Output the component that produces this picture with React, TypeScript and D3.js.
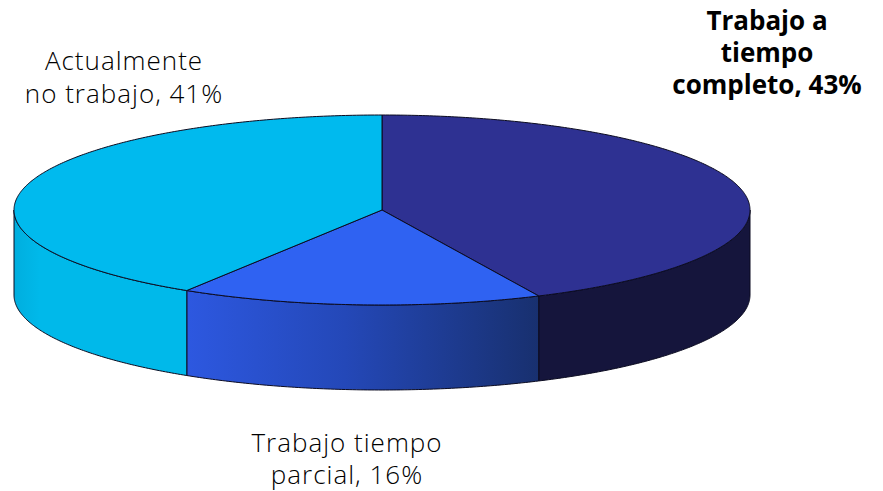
import React from "react";
import * as d3 from "d3";

const categories = ["Trabajo a tiempo completo", "Trabajo tiempo parcial", "Actualmente no trabajo"];
const shares = [43, 15.9, 41.1];
const topColors = ["#2e3192", "#2f62f2", "#00baee"];
const labelLines = [
  ["Trabajo a", "tiempo", "completo, 43%"],
  ["Trabajo tiempo", "parcial, 16%"],
  ["Actualmente", "no trabajo, 41%"],
];
const sideStops = [
  [["0%", "#15153c"], ["100%", "#15153c"]],
  [["0%", "#2d58e0"], ["45%", "#2448b8"], ["100%", "#18306f"]],
  [["0%", "#00aede"], ["15%", "#00b9ea"], ["100%", "#00b9ea"]],
];

const W = 883, H = 491;
const x = d3.scaleLinear().domain([-1, 1]).range([14, 750]);
const y = d3.scaleLinear().domain([-1, 1]).range([115, 305]);
const depth = 85;
const pie = d3.pie<number>().sort(null).startAngle(0).endAngle(2 * Math.PI);
const arcs = pie(shares);
const samples = (a: number, b: number) => {
  const n = Math.max(2, Math.ceil((b - a) / 0.01));
  return d3.range(n + 1).map((i) => a + ((b - a) * i) / n);
};
const px = (a: number) => x(Math.sin(a));
const py = (a: number) => y(-Math.cos(a));
const line = d3.line<[number, number]>();
const topPath = (a: number, b: number) =>
  line([[x(0), y(0)], ...samples(a, b).map((t) => [px(t), py(t)] as [number, number])]) + "Z";
const sidePath = (a0: number, b0: number) => {
  const a = Math.max(a0, Math.PI / 2), b = Math.min(b0, (3 * Math.PI) / 2);
  if (b <= a) return null;
  const ts = samples(a, b);
  const upper = ts.map((t) => [px(t), py(t)] as [number, number]);
  const lower = ts.slice().reverse().map((t) => [px(t), py(t) + depth] as [number, number]);
  return line([...upper, ...lower]) + "Z";
};
const labelPos = [
  { cx: 767, y: 30, lh: 32, weight: 700, spacing: 0 },
  { cx: 347, y: 452, lh: 32, weight: 300, spacing: 1 },
  { cx: 124, y: 70, lh: 33, weight: 300, spacing: 1 },
];

export default function App() {
  return (
    <svg width={W} height={H} style={{ position: "absolute", left: 0, top: 0, background: "#fff" }}>
      <defs>
        {sideStops.map((st, i) => {
          const a = Math.max(arcs[i].startAngle, Math.PI / 2), b = Math.min(arcs[i].endAngle, (3 * Math.PI) / 2);
          return (
            <linearGradient key={i} id={`side${i}`} gradientUnits="userSpaceOnUse" x1={Math.min(px(a), px(b))} x2={Math.max(px(a), px(b))} y1={0} y2={0}>
              {st.map(([o, c]) => <stop key={o} offset={o} stopColor={c} />)}
            </linearGradient>
          );
        })}
      </defs>
      {arcs.map((d, i) => {
        const p = sidePath(d.startAngle, d.endAngle);
        return p && <path key={"s" + i} d={p} fill={`url(#side${i})`} stroke="#0b0b20" strokeWidth={1} strokeLinejoin="round" />;
      })}
      {arcs.map((d, i) => (
        <path key={"t" + i} d={topPath(d.startAngle, d.endAngle)} fill={topColors[i]} stroke="#0b0b20" strokeWidth={1} strokeLinejoin="round">
          <title>{categories[i]}</title>
        </path>
      ))}
      {labelLines.map((lines, i) => (
        <text key={i} textAnchor="middle" fontFamily="'Open Sans', Lato, sans-serif" fontSize={26} fontWeight={labelPos[i].weight} letterSpacing={labelPos[i].spacing} fill="#000">
          {lines.map((l, j) => (
            <tspan key={j} x={labelPos[i].cx} y={labelPos[i].y + j * labelPos[i].lh}>{l}</tspan>
          ))}
        </text>
      ))}
    </svg>
  );
}
